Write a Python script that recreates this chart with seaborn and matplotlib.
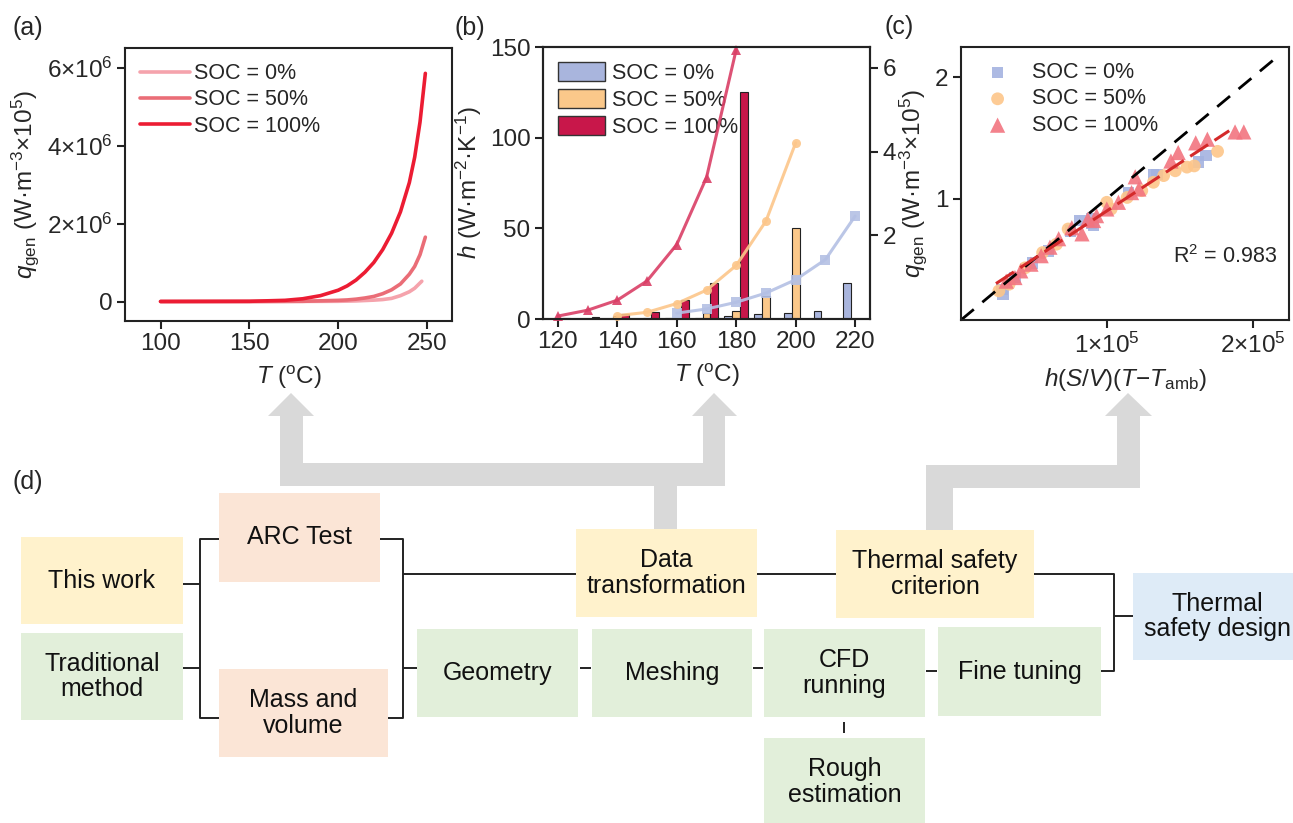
import pandas as pd
import seaborn as sns
import matplotlib.pyplot as plt
from matplotlib.patches import Rectangle, Polygon, Patch
from matplotlib.lines import Line2D

W, H = 1293, 823

soc_levels = ["SOC = 0%", "SOC = 50%", "SOC = 100%"]

# (a) q_gen vs T, values in 1e6 W/m3
a_T_0 = [100, 150, 200, 210, 220, 225, 230, 235, 240, 243, 247]
a_q_0 = [0, 0, 0.005, 0.015, 0.035, 0.05, 0.08, 0.15, 0.25, 0.34, 0.52]
a_T_50 = [100, 150, 180, 200, 205, 210, 215, 220, 225, 230, 235, 240, 243, 246, 249]
a_q_50 = [0, 0, 0.005, 0.03, 0.04, 0.06, 0.09, 0.13, 0.2, 0.3, 0.45, 0.7, 0.9, 1.2, 1.65]
a_T_100 = [100, 150, 170, 180, 190, 200, 205, 210, 215, 220, 225, 230, 235, 240, 243, 246, 249]
a_q_100 = [0, 0.005, 0.03, 0.07, 0.15, 0.29, 0.40, 0.55, 0.75, 1.0, 1.33, 1.75, 2.3, 3.05, 3.7, 4.6, 5.85]

# (b) bars: h (left axis)
b_T_0 = [160, 170, 180, 190, 200, 210, 220]
b_h_0 = [0.3, 0.5, 1.6, 2.6, 3.5, 4.4, 19.6]
b_T_50 = [140, 150, 160, 170, 180, 190, 200]
b_h_50 = [1.5, 0.5, 0.6, 3.5, 4.4, 12.6, 50]
b_T_100 = [120, 130, 140, 150, 160, 170, 180]
b_h_100 = [0.3, 1.3, 2.8, 4.0, 10.4, 20, 125]
# (b) lines (right axis)
b_v_0 = [0.14, 0.24, 0.40, 0.62, 0.94, 1.42, 2.46]
b_v_50 = [0.08, 0.16, 0.37, 0.69, 1.28, 2.34, 4.21]
b_v_100 = [0.07, 0.21, 0.45, 0.91, 1.78, 3.38, 6.44]

# (c) q_gen (x1e5) vs h(S/V)(T-Tamb) (x1e5)
c_x_0 = [1.68, 1.63, 1.345, 1.32, 1.15, 0.90, 0.895, 0.815, 0.75, 0.60, 0.49, 0.37, 0.28, 0.29, 0.91]
c_y_0 = [1.355, 1.30, 1.20, 1.20, 1.05, 0.83, 0.80, 0.82, 0.735, 0.57, 0.47, 0.35, 0.25, 0.21, 0.78]
c_x_50 = [1.76, 1.60, 1.55, 1.47, 1.39, 1.32, 1.24, 1.14, 1.03, 1.0, 0.735, 0.655, 0.56, 0.44, 0.33, 0.26]
c_y_50 = [1.39, 1.27, 1.26, 1.23, 1.19, 1.135, 1.066, 1.01, 0.915, 0.97, 0.75, 0.625, 0.556, 0.43, 0.295, 0.24]
c_x_100 = [1.94, 1.88, 1.69, 1.61, 1.49, 1.44, 1.195, 1.22, 1.17, 1.08, 1.0, 0.93, 0.87, 0.83,
           0.76, 0.67, 0.61, 0.55, 0.48, 0.41, 0.37, 0.31, 0.91]
c_y_100 = [1.55, 1.55, 1.49, 1.46, 1.38, 1.31, 1.18, 1.08, 1.05, 0.97, 0.915, 0.86, 0.83, 0.71,
           0.76, 0.67, 0.60, 0.53, 0.46, 0.405, 0.35, 0.32, 0.82]
diag_x = [0, 2.17e5]
diag_y = [0, 2.17]
fit_x = [0.24e5, 1.84e5]
fit_y = [0.30, 1.56]
r2_text = "R$^2$ = 0.983"

a_colors = ["#F5A3AC", "#EA6D77", "#EC1C33"]
bar_colors = ["#A9B5DD", "#FBC88A", "#C8174A"]
line_colors = ["#B4C0E4", "#FCC68A", "#DA3F66"]
sc_colors = ["#A4B3E0", "#FDC68A", "#F27480"]

sns.set_theme(style="ticks")
plt.rcParams["font.family"] = ["Liberation Sans", "DejaVu Sans"]
plt.rcParams["mathtext.fontset"] = "custom"
plt.rcParams["mathtext.rm"] = "Liberation Sans"
plt.rcParams["mathtext.it"] = "Liberation Sans:italic"
plt.rcParams["mathtext.bf"] = "Liberation Sans:bold"

FS_TICK, FS_LAB, FS_LEG, FS_BOX = 17.5, 17.5, 15.5, 18


def frac(l, t, r, b):
    return [l / W, 1 - b / H, (r - l) / W, (b - t) / H]


def style_axes(ax):
    for s in ax.spines.values():
        s.set_linewidth(1.5)
        s.set_color("#222222")
        s.set_visible(True)
    ax.tick_params(direction="out", length=6, width=1.5, labelsize=FS_TICK,
                   color="#222222", pad=3)


fig = plt.figure(figsize=(W / 100, H / 100), dpi=100)

# ---------- overlay for flowchart (d) ----------
ov = fig.add_axes([0, 0, 1, 1])
ov.set_xlim(0, W)
ov.set_ylim(H, 0)
ov.axis("off")

gray = "#D9D9D9"
gray_rects = [(280, 416, 303, 486), (280, 463, 725, 486), (703, 416, 725, 486), (654, 486, 677, 529),
              (926, 465, 953, 530), (926, 465, 1140, 488), (1117, 416, 1140, 488)]
gray_heads = [[(268, 416), (314, 416), (291, 393)], [(692, 416), (737, 416), (714, 393)],
              [(1105, 416), (1152, 416), (1128, 393)]]
for x0, y0, x1, y1 in gray_rects:
    ov.add_patch(Rectangle((x0, y0), x1 - x0, y1 - y0, color=gray, lw=0))
for pts in gray_heads:
    ov.add_patch(Polygon(pts, closed=True, color=gray, lw=0))

YEL, GRN, SAL, BLU = "#FFF2CC", "#E2EFDA", "#FBE5D6", "#DEEBF7"
boxes = [
    ("This work", 21, 537, 183, 624, YEL),
    ("Traditional\nmethod", 21, 633, 183, 720, GRN),
    ("ARC Test", 219, 493, 380, 582, SAL),
    ("Mass and\nvolume", 219, 669, 388, 757, SAL),
    ("Data\ntransformation", 576, 529, 757, 617, YEL),
    ("Geometry", 417, 629, 578, 717, GRN),
    ("Meshing", 592, 629, 752, 717, GRN),
    ("CFD\nrunning", 764, 629, 925, 717, GRN),
    ("Thermal safety\ncriterion", 836, 530, 1034, 618, YEL),
    ("Fine tuning", 938, 627, 1101, 716, GRN),
    ("Rough\nestimation", 764, 738, 925, 826, GRN),
    ("Thermal\nsafety design", 1133, 573, 1301, 660, BLU),
]
for label, x0, y0, x1, y1, c in boxes:
    ov.add_patch(Rectangle((x0, y0), x1 - x0, y1 - y0, color=c, lw=0))
    ov.text((x0 + x1) / 2, (y0 + y1) / 2, label, ha="center", va="center",
            fontsize=FS_BOX, linespacing=1.1, color="#111111")

connectors = [
    [(183, 584), (200, 584)], [(183, 668), (200, 668)],
    [(219, 539), (200, 539), (200, 718), (219, 718)],
    [(380, 539), (403, 539), (403, 718), (388, 718)],
    [(403, 574), (576, 574)], [(403, 668), (417, 668)],
    [(580, 668), (591, 668)], [(753, 668), (763, 668)], [(926, 671), (937, 671)],
    [(844, 722), (844, 733)], [(757, 574), (836, 574)],
    [(1034, 574), (1114, 574), (1114, 671), (1101, 671)], [(1114, 616), (1133, 616)],
]
for seg in connectors:
    xs, ys = zip(*seg)
    ov.plot(xs, ys, color="#222222", lw=1.4, solid_capstyle="butt")

for lab, x, y in [("(a)", 12, 28), ("(b)", 455, 28), ("(c)", 884, 27), ("(d)", 12, 482)]:
    ov.text(x, y, lab, ha="left", va="center", fontsize=18)

# ---------- (a) ----------
ax_a = fig.add_axes(frac(125, 48, 452, 321))
df_a = pd.concat([
    pd.DataFrame({"T": t, "q": [v * 1e6 for v in q], "SOC": s})
    for t, q, s in [(a_T_0, a_q_0, soc_levels[0]), (a_T_50, a_q_50, soc_levels[1]),
                    (a_T_100, a_q_100, soc_levels[2])]
])
sns.lineplot(data=df_a, x="T", y="q", hue="SOC", hue_order=soc_levels, palette=a_colors,
             linewidth=2.6, estimator=None, legend=False, ax=ax_a)
ax_a.set_xlim(80, 264)
ax_a.set_ylim(-0.5e6, 6.5e6)
ax_a.set_xticks([100, 150, 200, 250])
ax_a.set_yticks([0, 2e6, 4e6, 6e6])
ax_a.set_yticklabels(["0", "2×10$^6$", "4×10$^6$", "6×10$^6$"])
ax_a.set_xlabel(r"$T$ ($^{\rm o}$C)", fontsize=FS_LAB, labelpad=6)
ax_a.set_ylabel(r"$q_{\rm gen}$ (W·m$^{-3}$×10$^5$)", fontsize=FS_LAB, labelpad=4)
style_axes(ax_a)
ax_a.legend(handles=[Line2D([], [], color=c, lw=2.6) for c in a_colors], labels=soc_levels,
            loc="upper left", frameon=False, fontsize=FS_LEG, handlelength=2.3,
            handletextpad=0.2, labelspacing=0.25, borderaxespad=0.3)

# ---------- (b) ----------
ax_b = fig.add_axes(frac(543, 47, 870, 319))
df_bars = pd.concat([
    pd.DataFrame({"T": t, "h": h, "SOC": s})
    for t, h, s in [(b_T_0, b_h_0, soc_levels[0]), (b_T_50, b_h_50, soc_levels[1]),
                    (b_T_100, b_h_100, soc_levels[2])]
])
sns.barplot(data=df_bars, x="T", y="h", hue="SOC", hue_order=soc_levels, palette=bar_colors,
            native_scale=True, errorbar=None, edgecolor="#222222", linewidth=0.8,
            saturation=1, legend=False, ax=ax_b)
ax_b.set_xlim(115, 225)
ax_b.set_ylim(0, 150)
ax_b.set_xticks([120, 140, 160, 180, 200, 220])
ax_b.set_yticks([0, 50, 100, 150])
ax_b.set_xlabel(r"$T$ ($^{\rm o}$C)", fontsize=FS_LAB, labelpad=6)
ax_b.set_ylabel(r"$h$ (W·m$^{-2}$·K$^{-1}$)", fontsize=FS_LAB, labelpad=4)
style_axes(ax_b)

ax_b2 = ax_b.twinx()
df_lines = pd.concat([
    pd.DataFrame({"T": t, "v": v, "SOC": s})
    for t, v, s in [(b_T_0, b_v_0, soc_levels[0]), (b_T_50, b_v_50, soc_levels[1]),
                    (b_T_100, b_v_100, soc_levels[2])]
])
sns.lineplot(data=df_lines, x="T", y="v", hue="SOC", style="SOC", hue_order=soc_levels,
             style_order=soc_levels, palette=line_colors,
             markers={soc_levels[0]: "s", soc_levels[1]: "o", soc_levels[2]: "^"},
             dashes=False, linewidth=2.2, markersize=6.5, markeredgewidth=0, alpha=0.9,
             estimator=None, legend=False, ax=ax_b2, clip_on=False)
ax_b2.set_ylim(0, 6.5)
ax_b2.set_yticks([2, 4, 6])
ax_b2.set_ylabel("")
style_axes(ax_b2)
ax_b.legend(handles=[Patch(facecolor=c, edgecolor="#333333", lw=1) for c in bar_colors],
            labels=soc_levels, loc="upper left", frameon=False, fontsize=FS_LEG,
            handlelength=2.2, handleheight=1.0, handletextpad=0.3, labelspacing=0.22,
            borderaxespad=0.3)

# ---------- (c) ----------
ax_c = fig.add_axes(frac(961, 47, 1289, 320))
markers = ["s", "o", "^"]
sizes = [70, 85, 120]
for xs, ys, s, c, m, sz in zip([c_x_0, c_x_50, c_x_100], [c_y_0, c_y_50, c_y_100],
                               soc_levels, sc_colors, markers, sizes):
    sns.scatterplot(x=[v * 1e5 for v in xs], y=ys, color=c, marker=m, s=sz, alpha=0.9,
                    edgecolor="none", label=s, ax=ax_c)
ax_c.plot(diag_x, diag_y, color="black", lw=2, dashes=(6, 4))
ax_c.plot(fit_x, fit_y, color="#D42A2A", lw=2.2, dashes=(7, 2.5))
ax_c.set_xlim(0, 2.25e5)
ax_c.set_ylim(0, 2.25)
ax_c.set_xticks([1e5, 2e5])
ax_c.set_xticklabels(["1×10$^5$", "2×10$^5$"])
ax_c.set_yticks([1, 2])
ax_c.set_xlabel(r"$h$($S$/$V$)($T$$-$$T_{\rm amb}$)", fontsize=FS_LAB, labelpad=6)
ax_c.set_ylabel(r"$q_{\rm gen}$ (W·m$^{-3}$×10$^5$)", fontsize=FS_LAB, labelpad=4)
style_axes(ax_c)
ax_c.text(0.963, 0.231, r2_text, transform=ax_c.transAxes, ha="right", va="center",
          fontsize=FS_LEG)
ax_c.legend(loc="upper left", frameon=False, fontsize=FS_LEG, handletextpad=0.6,
            labelspacing=0.25, borderaxespad=0.3, markerscale=1.0)

fig.savefig("out.png", dpi=100)
